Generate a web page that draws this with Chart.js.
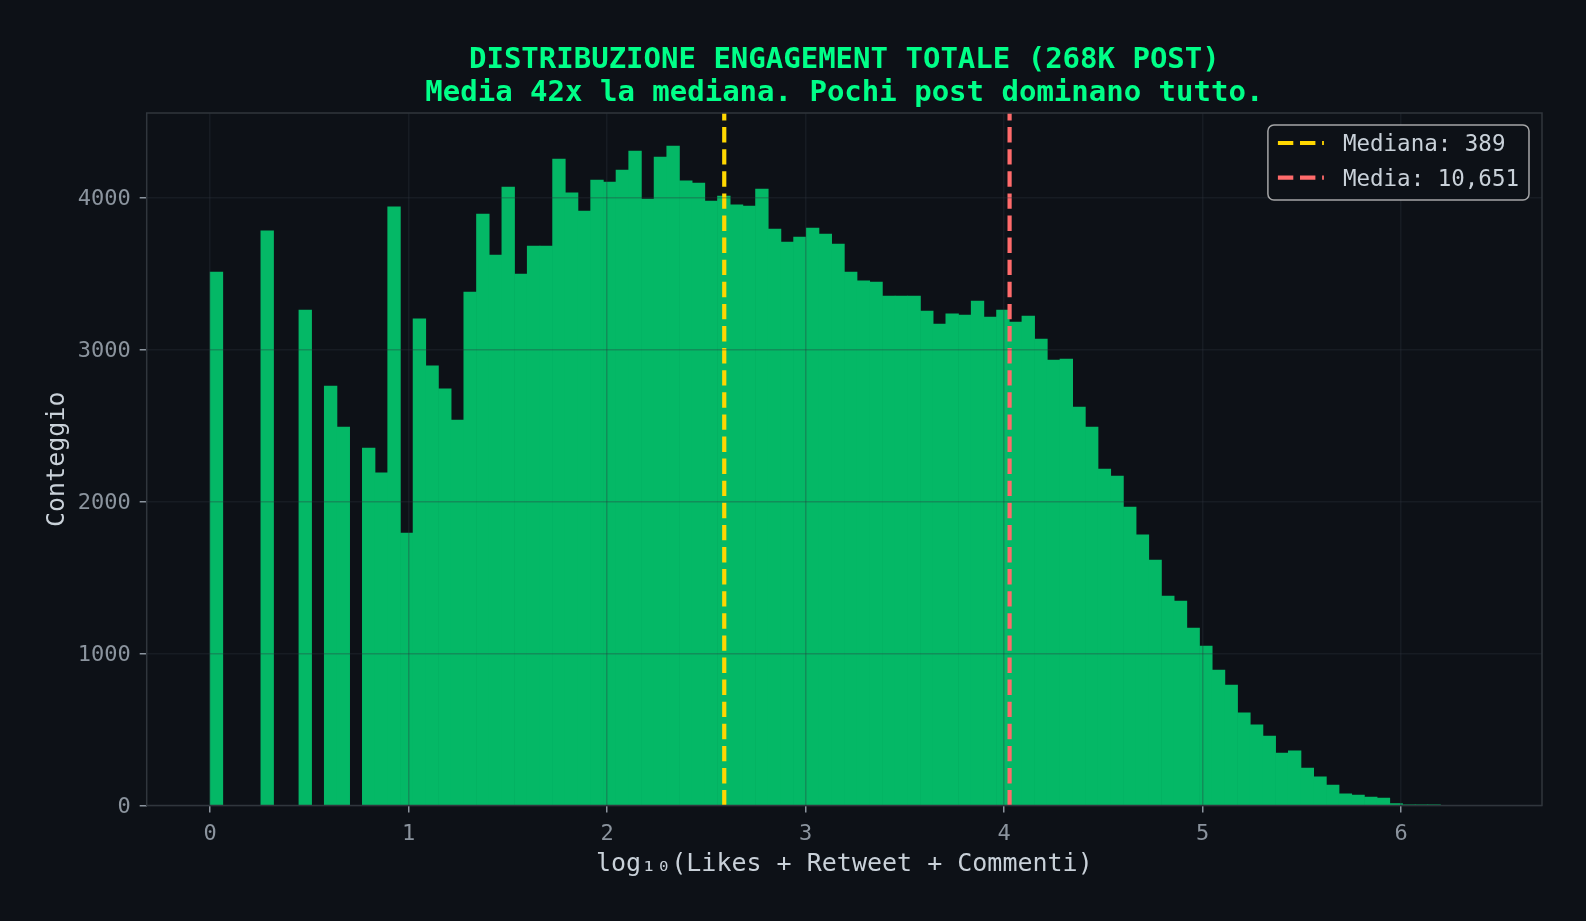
<!DOCTYPE html>
<html lang="it">
<head>
<meta charset="UTF-8">
<title>Distribuzione engagement totale</title>
<script src="https://cdn.jsdelivr.net/npm/chart.js@4.4.1/dist/chart.umd.min.js"></script>
<style>
  html, body { margin: 0; padding: 0; background: #0d1117; }
  #wrap { width: 1586px; height: 921px; position: relative; }
</style>
</head>
<body>
<div id="wrap"><canvas id="histChart"></canvas></div>
<script>
// histogram of log10(engagement): 100 bins starting at 0
const binStart = 0;
const binWidth = 0.0639;
const binCounts = [
  3510, 0, 0, 0, 3780, 0, 0, 3260, 0, 2760,
  2490, 0, 2352, 2188, 3938, 1793, 3201, 2892, 2741, 2536,
  3378, 3891, 3622, 4069, 3497, 3681, 3681, 4253, 4030, 3911,
  4115, 4102, 4181, 4306, 3990, 4266, 4339, 4109, 4095, 3977,
  4010, 3951, 3944, 4055, 3792, 3707, 3740, 3799, 3760, 3694,
  3510, 3451, 3444, 3352, 3352, 3352, 3253, 3168, 3234, 3227,
  3319, 3214, 3260, 3181, 3220, 3069, 2931, 2937, 2622, 2490,
  2214, 2168, 1964, 1780, 1615, 1378, 1345, 1168, 1049, 891,
  793, 609, 530, 457, 345, 359, 247, 188, 135, 76,
  69, 56, 49, 12, 2, 1, 1, 0, 0, 0
];
const medianValue = 389;
const meanValue = 10651;
const xTicks = [0, 1, 2, 3, 4, 5, 6];
const yTicks = [0, 1000, 2000, 3000, 4000];
const titleLines = [
  'DISTRIBUZIONE ENGAGEMENT TOTALE (268K POST)',
  'Media 42x la mediana. Pochi post dominano tutto.'
];
const xLabel = 'log\u2081\u2080(Likes + Retweet + Commenti)';
const yLabel = 'Conteggio';

const FONT = '"DejaVu Sans Mono", monospace';
const gridColor = 'rgba(48, 54, 61, 0.32)';

// axis ranges like matplotlib: 5% margin on x, 5% headroom on y
// (x range spans the full 100 bins even where the last ones are empty)
const dataMax = binStart + binCounts.length * binWidth;
const xPad = 0.05 * (dataMax - binStart);
const yTop = 1.05 * Math.max(...binCounts);

const bars = binCounts.map((c, i) => ({ x: binStart + (i + 0.5) * binWidth, y: c }));

function vline(value) {
  const x = Math.log10(value);
  return [{ x: x, y: 0 }, { x: x, y: yTop }];
}

// spines, title and the legend box inside the plot
const decorations = {
  id: 'decorations',
  afterDraw(chart) {
    const { ctx, chartArea: a } = chart;
    ctx.save();
    ctx.strokeStyle = '#30363d';
    ctx.lineWidth = 1.5;
    ctx.strokeRect(a.left, a.top, a.right - a.left, a.bottom - a.top);

    ctx.fillStyle = '#00ff88';
    ctx.font = 'bold 29px ' + FONT;
    ctx.textAlign = 'center';
    ctx.textBaseline = 'middle';
    const cx = (a.left + a.right) / 2;
    ctx.fillText(titleLines[0], cx, 60);
    ctx.fillText(titleLines[1], cx, 93.5);

    const items = chart.data.datasets.filter(d => d.type === 'line');
    ctx.font = '22.5px ' + FONT;
    const textW = Math.max(...items.map(d => ctx.measureText(d.label).width));
    const boxW = 75 + textW + 10;
    const boxH = 75;
    const bx = a.right - 13 - boxW;
    const by = a.top + 12;
    ctx.beginPath();
    ctx.roundRect(bx, by, boxW, boxH, 6);
    ctx.fillStyle = '#0d1117';
    ctx.fill();
    ctx.strokeStyle = 'rgba(204, 204, 204, 0.8)';
    ctx.lineWidth = 1.5;
    ctx.stroke();

    items.forEach((d, i) => {
      const y = by + 18 + i * 34.7;
      ctx.strokeStyle = d.borderColor;
      ctx.lineWidth = d.borderWidth;
      ctx.setLineDash(d.borderDash);
      ctx.beginPath();
      ctx.moveTo(bx + 10, y);
      ctx.lineTo(bx + 56, y);
      ctx.stroke();
      ctx.setLineDash([]);
      ctx.fillStyle = '#c9d1d9';
      ctx.textAlign = 'left';
      ctx.fillText(d.label, bx + 75, y + 2.5);
    });
    ctx.restore();
  }
};

const ctx = document.getElementById('histChart').getContext('2d');
const histChart = new Chart(ctx, {
  type: 'bar',
  data: {
    datasets: [
      {
        type: 'bar',
        label: 'Conteggio',
        data: bars,
        backgroundColor: '#04b866',
        borderWidth: 0,
        barPercentage: 1,
        categoryPercentage: 1,
        order: 3
      },
      {
        type: 'line',
        label: 'Mediana: ' + medianValue.toLocaleString('en-US'),
        data: vline(medianValue),
        borderColor: '#ffd700',
        borderWidth: 4.2,
        borderDash: [15.4, 6.7],
        pointRadius: 0,
        order: 1
      },
      {
        type: 'line',
        label: 'Media: ' + meanValue.toLocaleString('en-US'),
        data: vline(meanValue),
        borderColor: '#ff6b6b',
        borderWidth: 4.2,
        borderDash: [15.4, 6.7],
        pointRadius: 0,
        order: 2
      }
    ]
  },
  options: {
    responsive: true,
    maintainAspectRatio: false,
    devicePixelRatio: 1,
    animation: false,
    layout: { padding: { left: 0, right: 44, top: 113, bottom: 15.5 } },
    plugins: {
      legend: { display: false },
      tooltip: { enabled: false },
      title: { display: false }
    },
    scales: {
      x: {
        type: 'linear',
        min: binStart - xPad,
        max: dataMax + xPad,
        offset: false,
        afterBuildTicks: s => { s.ticks = xTicks.map(v => ({ value: v })); },
        afterFit: s => { s.height = 100; },
        ticks: {
          color: '#8b949e',
          font: { family: FONT, size: 22 },
          padding: 9,
          maxRotation: 0,
          autoSkip: false,
          callback: v => String(v)
        },
        grid: {
          color: gridColor,
          lineWidth: 1.5,
          tickColor: '#8b949e',
          tickLength: 7,
          tickWidth: 1.5,
          offset: false,
          z: 1
        },
        border: { display: false },
        title: {
          display: true,
          text: xLabel,
          color: '#c9d1d9',
          font: { family: FONT, size: 25 },
          padding: { top: 0, bottom: 26 }
        }
      },
      y: {
        min: 0,
        max: yTop,
        afterBuildTicks: s => { s.ticks = yTicks.map(v => ({ value: v })); },
        afterFit: s => { s.width = 146.7; },
        ticks: {
          color: '#8b949e',
          font: { family: FONT, size: 22 },
          padding: 9,
          labelOffset: 2,
          callback: v => String(v)
        },
        grid: {
          color: gridColor,
          lineWidth: 1.5,
          tickColor: '#8b949e',
          tickLength: 7,
          tickWidth: 1.5,
          z: 1
        },
        border: { display: false },
        title: {
          display: true,
          text: yLabel,
          color: '#c9d1d9',
          font: { family: FONT, size: 25 },
          padding: { top: 42.6, bottom: 0 }
        }
      }
    }
  },
  plugins: [decorations]
});
</script>
</body>
</html>
